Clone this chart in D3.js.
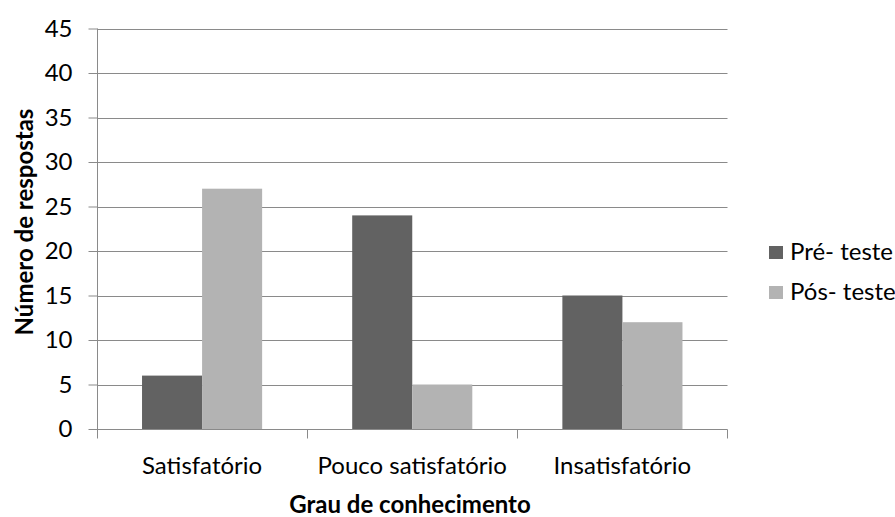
<!DOCTYPE html>
<html>
<head>
<meta charset="utf-8">
<script src="https://cdn.jsdelivr.net/npm/d3@7"></script>
<style>
  html, body { margin: 0; padding: 0; background: #fff; }
  svg text { font-family: Lato, "Open Sans", sans-serif; fill: #000; }
</style>
</head>
<body>
<svg id="chart" width="895" height="517"></svg>
<script>
// Responses per knowledge level, before and after the test
const categories = ["Satisfatório", "Pouco satisfatório", "Insatisfatório"];
const seriesNames = ["Pré- teste", "Pós- teste"];
const preTeste = [6, 24, 15];
const posTeste = [27, 5, 12];
const yTicks = [0, 5, 10, 15, 20, 25, 30, 35, 40, 45];
const colors = ["#626262", "#b3b3b3"];

const svg = d3.select("#chart");
const plot = { left: 97, right: 727.5, top: 28.5, bottom: 429 };

const x = d3.scaleBand().domain(categories).range([plot.left, plot.right]);
const xInner = d3.scaleBand().domain(seriesNames)
  .range([0, x.bandwidth()]).paddingOuter(0.75).paddingInner(0);
const y = d3.scaleLinear().domain([0, 45]).range([plot.bottom, plot.top]);

// horizontal gridlines
svg.append("g").selectAll("line").data(yTicks.filter(d => d > 0)).join("line")
  .attr("x1", plot.left).attr("x2", plot.right)
  .attr("y1", d => Math.round(y(d)) + 0.5).attr("y2", d => Math.round(y(d)) + 0.5)
  .attr("stroke", "#8a8a8a").attr("stroke-width", 1);

// bars
const rows = categories.map((c, i) => ({ cat: c, vals: [preTeste[i], posTeste[i]] }));
const groups = svg.append("g").selectAll("g").data(rows).join("g")
  .attr("transform", d => `translate(${x(d.cat)},0)`);
groups.selectAll("rect").data(d => d.vals.map((v, j) => ({ v, s: seriesNames[j], j })))
  .join("rect")
  .attr("x", d => xInner(d.s))
  .attr("width", xInner.bandwidth())
  .attr("y", d => y(d.v))
  .attr("height", d => y(0) - y(d.v))
  .attr("fill", d => colors[d.j]);

// y axis
const yAxis = d3.axisLeft(y).tickValues(yTicks).tickSize(9).tickPadding(16);
const gy = svg.append("g").attr("transform", `translate(${plot.left + 0.5},0)`).call(yAxis);
gy.select(".domain").attr("stroke", "#8a8a8a").attr("d", `M0,${plot.top}V${plot.bottom}`);
gy.selectAll(".tick line").attr("stroke", "#8a8a8a");
gy.selectAll(".tick text").attr("font-size", 24).attr("fill", "#000")
  .style("font-family", "Lato, sans-serif");

// x axis: baseline with boundary ticks between categories
const gx = svg.append("g").attr("transform", `translate(0,${plot.bottom + 0.5})`);
gx.append("line").attr("x1", plot.left).attr("x2", plot.right)
  .attr("stroke", "#8a8a8a");
const bounds = categories.map(c => x(c)).concat([x(categories[categories.length - 1]) + x.bandwidth()]);
gx.selectAll("line.b").data(bounds).join("line").attr("class", "b")
  .attr("x1", d => Math.round(d) + 0.5).attr("x2", d => Math.round(d) + 0.5)
  .attr("y1", 0).attr("y2", 9).attr("stroke", "#8a8a8a");
gx.selectAll("text").data(categories).join("text")
  .attr("x", d => x(d) + x.bandwidth() / 2)
  .attr("y", 44)
  .attr("text-anchor", "middle")
  .attr("font-size", 24)
  .text(d => d);

// axis titles
svg.append("text")
  .attr("transform", "translate(33,222) rotate(-90)")
  .attr("text-anchor", "middle")
  .attr("font-size", 24).attr("font-weight", "bold")
  .text("Número de respostas");
svg.append("text")
  .attr("x", 410).attr("y", 513)
  .attr("text-anchor", "middle")
  .attr("font-size", 24).attr("font-weight", "bold")
  .text("Grau de conhecimento");

// legend
const legend = svg.append("g").selectAll("g").data(seriesNames).join("g")
  .attr("transform", (d, i) => `translate(769,${246 + i * 40})`);
legend.append("rect").attr("width", 14).attr("height", 13)
  .attr("fill", (d, i) => colors[i]);
legend.append("text").attr("x", 21).attr("y", 14)
  .attr("font-size", 24).text(d => d);
</script>
</body>
</html>
